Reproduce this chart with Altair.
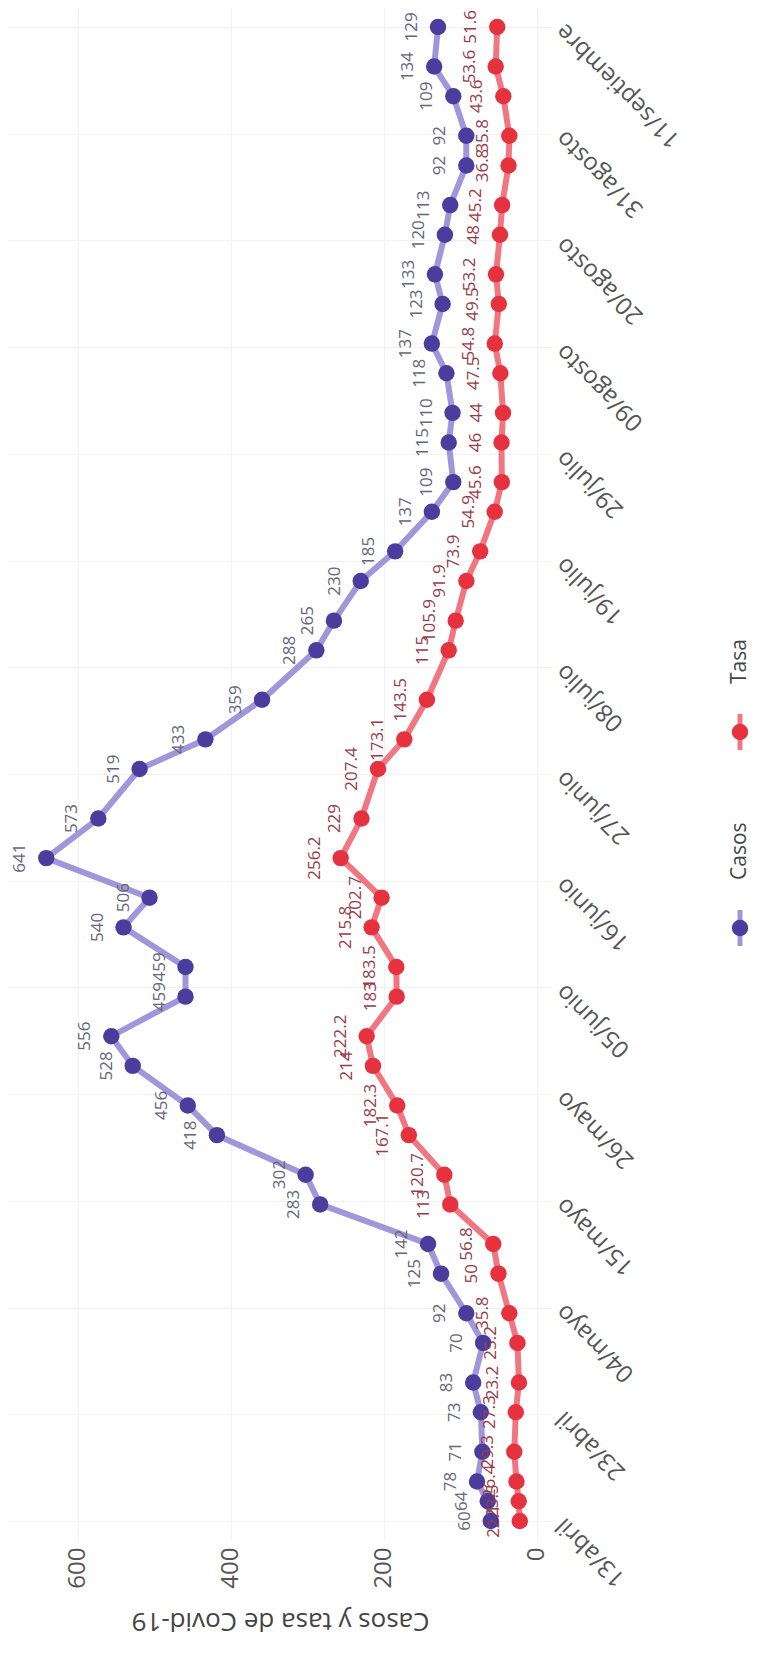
import json
import altair as alt
import pandas as pd

# ---------------- data ----------------
fechas = ["2020-04-13", "2020-04-15", "2020-04-17", "2020-04-20", "2020-04-24", "2020-04-27",
          "2020-05-01", "2020-05-04", "2020-05-08", "2020-05-11", "2020-05-15", "2020-05-18",
          "2020-05-22", "2020-05-25", "2020-05-29", "2020-06-01", "2020-06-05", "2020-06-08",
          "2020-06-12", "2020-06-15", "2020-06-19", "2020-06-23", "2020-06-28", "2020-07-01",
          "2020-07-05", "2020-07-10", "2020-07-13", "2020-07-17", "2020-07-20", "2020-07-24",
          "2020-07-27", "2020-07-31", "2020-08-03", "2020-08-07", "2020-08-10", "2020-08-14",
          "2020-08-17", "2020-08-21", "2020-08-24", "2020-08-28", "2020-08-31", "2020-09-04",
          "2020-09-07", "2020-09-11"]

casos = [60, 64, 78, 71, 73, 83, 70, 92, 125, 142, 283, 302,
         418, 456, 528, 556, 459, 459, 540, 506, 641, 573, 519, 433,
         359, 288, 265, 230, 185, 137, 109, 115, 110, 118, 137, 123,
         133, 120, 113, 92, 92, 109, 134, 129]

tasa = [22.1, 23.5, 26.4, 29.3, 27.3, 23.2, 25.2, 35.8, 50, 56.8, 113, 120.7,
        167.1, 182.3, 214, 222.2, 183, 183.5, 215.8, 202.7, 256.2, 229, 207.4, 173.1,
        143.5, 115, 105.9, 91.9, 73.9, 54.9, 45.6, 46, 44, 47.5, 54.8, 49.5,
        53.2, 48, 45.2, 36.8, 35.8, 43.6, 53.6, 51.6]

series = ["Casos", "Tasa"]
value_ticks = [0, 200, 400, 600]
meses = ["enero", "febrero", "marzo", "abril", "mayo", "junio", "julio",
         "agosto", "septiembre", "octubre", "noviembre", "diciembre"]
# date ticks (evenly spaced between first and last report, as in the picture)
date_ticks = [(4, 13, 0, 0), (4, 23, 18, 51), (5, 4, 13, 43), (5, 15, 8, 34),
              (5, 26, 3, 26), (6, 5, 22, 17), (6, 16, 17, 9), (6, 27, 12, 0),
              (7, 8, 6, 51), (7, 19, 1, 43), (7, 29, 20, 34), (8, 9, 15, 26),
              (8, 20, 10, 17), (8, 31, 5, 9), (9, 11, 0, 0)]

# ---------------- styles / layout ----------------
FONT = "Open Sans"
marker_col = {"Casos": "#4a3d9e", "Tasa": "#e6323f"}
line_col = {"Casos": "#a096da", "Tasa": "#f07782"}
text_col = {"Casos": "#66667a", "Tasa": "#983c4a"}
PLOT_W, PLOT_H = 544, 1532
TOTAL_W, TOTAL_H = 744, 1634


def fmt(v):
    return f"{v:g}"


rows = []
for s, vals in (("Casos", casos), ("Tasa", tasa)):
    for f, v in zip(fechas, vals):
        rows.append({"serie": s, "fecha": f + "T00:00:00", "valor": v, "etiqueta": fmt(v)})
df = pd.DataFrame(rows)

x_enc = alt.X(
    "valor:Q",
    scale=alt.Scale(domain=[-20, 691], reverse=True, nice=False, zero=False),
    axis=alt.Axis(
        orient="bottom", values=value_ticks, labelAngle=270, labelAlign="right",
        labelBaseline="middle", labelPadding=7, labelFontSize=24, labelFont=FONT,
        labelColor="#555555", ticks=False, domain=False, grid=True, gridColor="#f1f1f1",
        title="Casos y tasa de Covid-19", titleAngle=180, titleFont=FONT,
        titleFontSize=26, titleFontWeight="normal", titleColor="#444444",
        titleBaseline="bottom", titleAlign="center", titleY=67, labelOverlap=False,
    ),
)

y_enc = alt.Y(
    "fecha:T",
    scale=alt.Scale(domain=[alt.DateTime(year=2020, month=4, date=11, hours=2),
                            alt.DateTime(year=2020, month=9, date=12, hours=22)],
                    nice=False),
    axis=alt.Axis(
        orient="right",
        values=[alt.DateTime(year=2020, month=m, date=d, hours=h, minutes=mi)
                for (m, d, h, mi) in date_ticks],
        labelExpr="timeFormat(datum.value, '%d') + '/' + " + json.dumps(meses) + "[month(datum.value)]",
        labelAngle=225, labelAlign="right", labelBaseline="middle", labelPadding=8,
        labelFontSize=24, labelFont=FONT, labelColor="#555555", labelOverlap=False,
        labelBound=False, labelFlush=False, ticks=False, domain=False, grid=True,
        gridColor="#f1f1f1", title=None,
    ),
)

layers = []
for s in series:
    base = alt.Chart(df).transform_filter(alt.datum.serie == s).encode(
        x=x_enc, y=y_enc, order=alt.Order("fecha:T"))
    layers.append(base.mark_line(strokeWidth=6, color=line_col[s]))
    layers.append(base.mark_circle(size=270, opacity=1, color=marker_col[s]))
    layers.append(base.mark_text(angle=270, align="center", baseline="middle", dy=-26,
                                 fontSize=17, font=FONT, color=text_col[s]).encode(text="etiqueta:N"))

# ---------------- manual legend (rotated like the picture) ----------------
legend_pos = {"Casos": 920, "Tasa": 724}
LEG_X = 732
leg_df = pd.DataFrame({"serie": series})
for s in series:
    yc = legend_pos[s]
    lb = alt.Chart(leg_df).transform_filter(alt.datum.serie == s)
    layers.append(lb.mark_rule(strokeWidth=5, color=line_col[s]).encode(
        x=alt.value(LEG_X), y=alt.value(yc - 18), y2=alt.value(yc + 18)))
    layers.append(lb.mark_circle(size=270, opacity=1, color=marker_col[s]).encode(
        x=alt.value(LEG_X), y=alt.value(yc)))
    layers.append(lb.mark_text(angle=270, align="left", baseline="middle", fontSize=21,
                               font=FONT, color="#444444").encode(
        x=alt.value(LEG_X), y=alt.value(yc - 48), text="serie:N"))

chart = alt.layer(*layers).properties(
    width=PLOT_W, height=PLOT_H,
    autosize=alt.AutoSizeParams(type="none"),
    padding={"left": 0, "top": 0, "right": TOTAL_W - PLOT_W, "bottom": TOTAL_H - PLOT_H},
    background="white",
).configure_view(stroke=None)

chart.save("out.html", embed_options={"renderer": "svg", "actions": False})
